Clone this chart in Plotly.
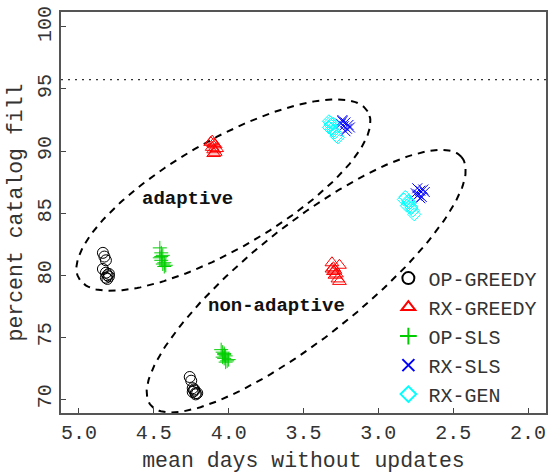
import numpy as np
import plotly.graph_objects as go

# ---------------- data ----------------
series_names = ["OP-GREEDY", "RX-GREEDY", "OP-SLS", "RX-SLS", "RX-GEN"]

op_greedy_x = [4.84, 4.83, 4.82, 4.84, 4.82, 4.81, 4.80, 4.81, 4.80, 4.82,
               4.26, 4.25, 4.24, 4.23, 4.22, 4.24, 4.22, 4.23, 4.21]
op_greedy_y = [81.8, 81.5, 81.2, 80.5, 80.2, 80.0, 79.9, 79.7, 80.1, 79.8,
               71.8, 71.5, 70.9, 70.7, 70.5, 70.6, 70.4, 70.8, 70.5]

rx_greedy_x = [4.11, 4.10, 4.09, 4.11, 4.10, 4.09, 4.12, 4.08, 4.10,
               3.31, 3.26, 3.30, 3.29, 3.31, 3.28, 3.29, 3.27, 3.26, 3.30]
rx_greedy_y = [90.8, 90.6, 90.5, 90.3, 90.1, 89.9, 90.7, 90.2, 89.8,
               81.0, 80.8, 80.6, 80.4, 80.5, 80.1, 80.0, 79.7, 79.5, 80.3]

op_sls_x = [4.46, 4.45, 4.44, 4.46, 4.45, 4.43, 4.44, 4.42, 4.45, 4.43,
            4.05, 4.04, 4.03, 4.02, 4.03, 4.01, 4.04, 4.02, 4.00, 4.03]
op_sls_y = [82.2, 81.8, 81.6, 81.4, 81.2, 81.0, 80.9, 80.8, 81.5, 80.7,
            74.0, 73.8, 73.6, 73.5, 73.3, 73.1, 73.4, 73.0, 73.2, 73.7]

rx_sls_x = [3.24, 3.22, 3.23, 3.21, 3.25, 3.20, 3.22, 3.24, 3.19,
            2.74, 2.72, 2.73, 2.71, 2.75, 2.70, 2.72, 2.74, 2.69]
rx_sls_y = [92.5, 92.3, 92.0, 91.8, 92.2, 92.1, 91.6, 92.4, 91.9,
            87.0, 86.8, 86.5, 86.3, 86.6, 86.9, 86.2, 86.4, 86.7]

rx_gen_x = [3.33, 3.32, 3.31, 3.30, 3.29, 3.28, 3.33, 3.30, 3.27, 3.32,
            2.82, 2.80, 2.79, 2.81, 2.78, 2.77, 2.76, 2.80, 2.78, 2.83]
rx_gen_y = [92.4, 92.1, 91.8, 92.2, 91.5, 91.2, 91.9, 91.6, 91.1, 92.3,
            86.3, 86.0, 85.8, 85.6, 85.4, 85.2, 84.9, 85.9, 85.5, 86.1]

x_ticks = [5.0, 4.5, 4.0, 3.5, 3.0, 2.5, 2.0]
y_ticks = [70, 75, 80, 85, 90, 95, 100]
reference_level = 95.75

group_labels = ["adaptive", "non-adaptive"]
group_label_x = [4.273, 3.68]
group_label_y = [86.1, 77.54]

# ---------------- layout geometry ----------------
W, H = 554, 474
ML, MR, MT, MB = 61, 8, 6, 56
XR = [5.12, 1.88]
YR = [68.9, 101.2]
PW, PH = W - ML - MR, H - MT - MB
SX = PW / abs(XR[1] - XR[0])   # px per x unit
SY = PH / abs(YR[1] - YR[0])   # px per y unit

# group ellipses: centre (data units), semi-axes (px), tilt (deg, on screen)
ellipses = [
    dict(cx=4.035, cy=86.45, a=168.0, b=55.4, tilt=30.84),
    dict(cx=3.482, cy=79.52, a=201.0, b=57.1, tilt=39.37),
]

FONT = "Liberation Mono, Courier New, monospace"
TXT = "#333333"

fig = go.Figure()
t = np.linspace(0, 2 * np.pi, 240)
for e in ellipses:
    ph = np.radians(e["tilt"])
    dx = e["a"] * np.cos(t) * np.cos(ph) - e["b"] * np.sin(t) * np.sin(ph)
    dy = e["a"] * np.cos(t) * np.sin(ph) + e["b"] * np.sin(t) * np.cos(ph)
    fig.add_trace(go.Scatter(x=e["cx"] - dx / SX, y=e["cy"] + dy / SY, mode="lines",
                             showlegend=False, hoverinfo="skip",
                             line=dict(color="black", width=2, dash="7px,6px")))

styles = [
    ("circle-open", "#000000", 11, op_greedy_x, op_greedy_y),
    ("triangle-up-open", "#FF0000", 12, rx_greedy_x, rx_greedy_y),
    ("cross-thin-open", "#00CD00", 10, op_sls_x, op_sls_y),
    ("x-thin-open", "#0000FF", 10, rx_sls_x, rx_sls_y),
    ("diamond-open", "#00FFFF", 10, rx_gen_x, rx_gen_y),
]
for name, (sym, col, sz, xs, ys) in zip(series_names, styles):
    fig.add_trace(go.Scatter(x=xs, y=ys, mode="markers", name=name,
                             marker=dict(symbol=sym, size=sz, color=col,
                                         line=dict(color=col, width=1))))

fig.add_hline(y=reference_level, line=dict(color="#333", width=1.2, dash="2px,5px"))

for lab, lx, ly in zip(group_labels, group_label_x, group_label_y):
    fig.add_annotation(x=lx, y=ly, text="<b>%s</b>" % lab, showarrow=False,
                       font=dict(family=FONT, size=19, color="#111"))

fig.update_layout(
    width=W, height=H, margin=dict(l=ML, r=MR, t=MT, b=MB),
    paper_bgcolor="white", plot_bgcolor="white",
    font=dict(family=FONT, size=20, color=TXT),
    showlegend=True,
    legend=dict(x=0.675, y=0.385, xanchor="left", yanchor="top",
                bgcolor="rgba(0,0,0,0)", font=dict(family=FONT, size=20, color=TXT),
                itemsizing="constant"),
    xaxis=dict(range=XR, tickvals=x_ticks, ticktext=["%.1f" % v for v in x_ticks],
               ticks="inside", ticklen=5, tickcolor="#444", showgrid=False, zeroline=False,
               showline=True, linecolor="#555", linewidth=1.5, mirror=True,
               tickfont=dict(family=FONT, size=20, color=TXT),
               title=dict(text="mean days without updates", standoff=8,
                          font=dict(family=FONT, size=21.5, color=TXT))),
    yaxis=dict(range=YR, tickvals=y_ticks, ticktext=[str(v) for v in y_ticks],
               ticks="inside", ticklen=5, tickcolor="#444", showgrid=False, zeroline=False,
               showline=True, linecolor="#555", linewidth=1.5, mirror=True, tickangle=-90,
               tickfont=dict(family=FONT, size=20, color=TXT),
               title=dict(text="percent catalog fill", standoff=6,
                          font=dict(family=FONT, size=21.5, color=TXT))),
)
fig.write_html("out.html")
